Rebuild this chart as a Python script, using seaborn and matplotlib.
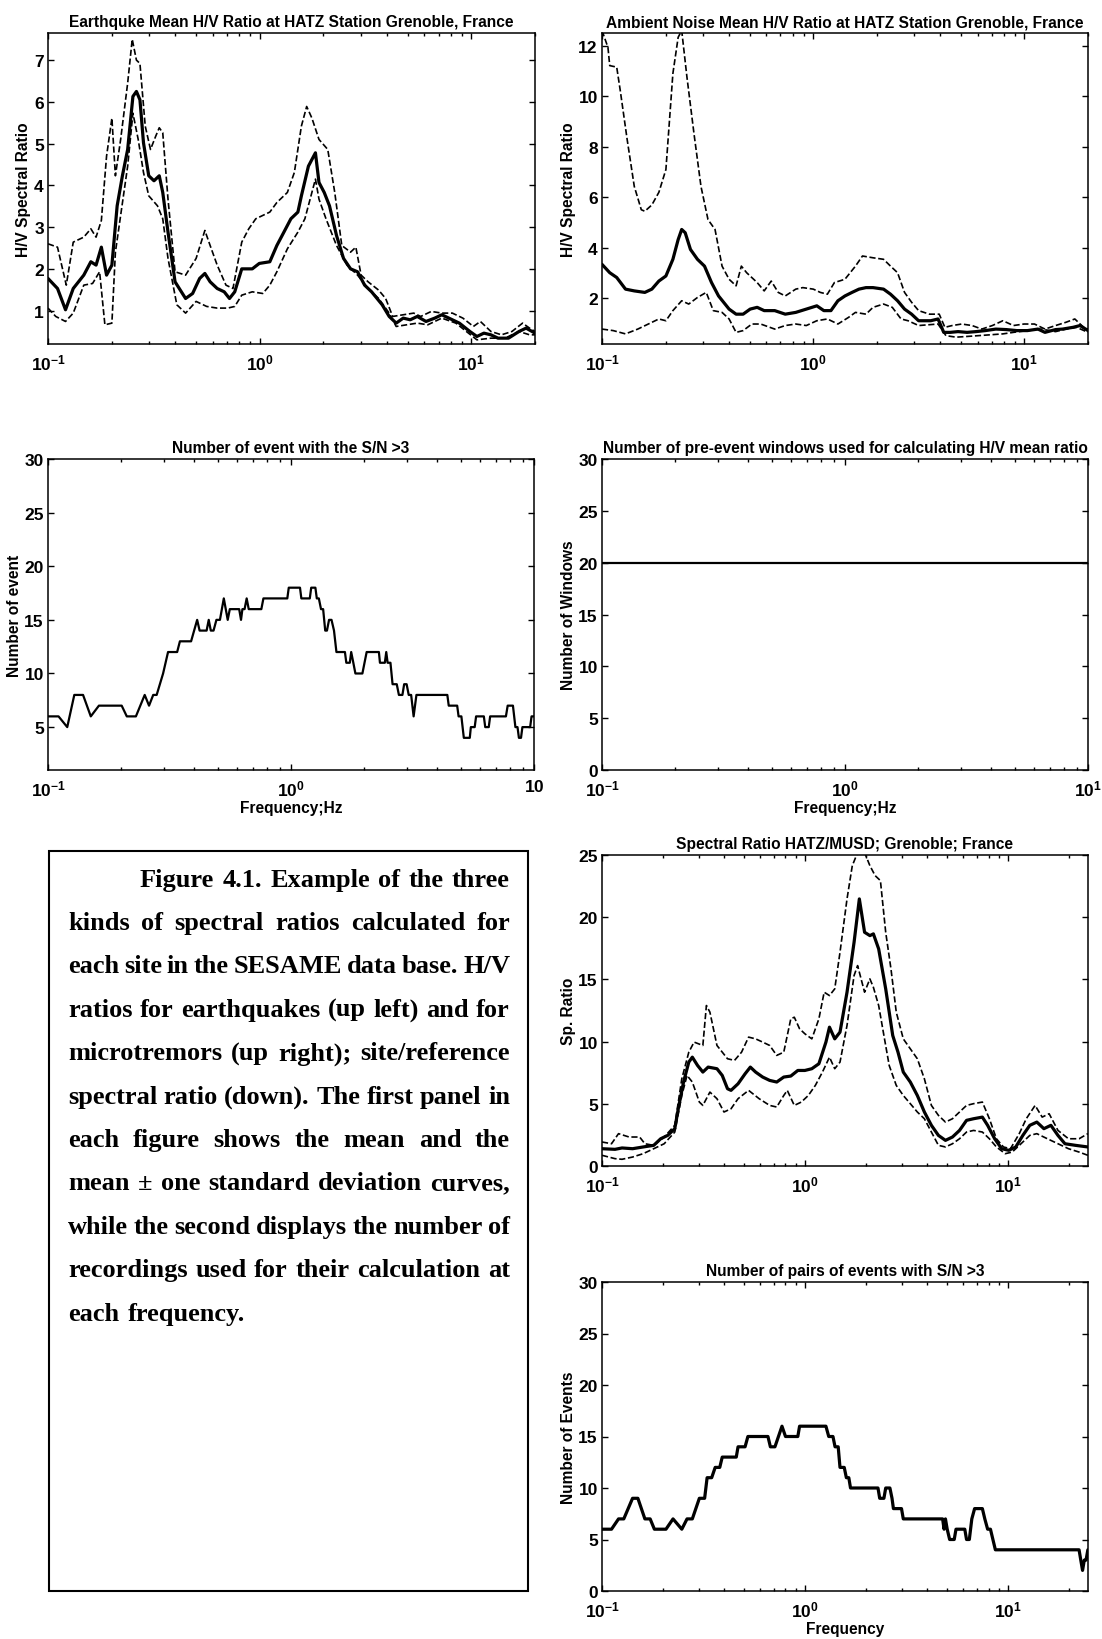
import numpy as np
import matplotlib
matplotlib.use("Agg")
import matplotlib.pyplot as plt
import seaborn as sns
from matplotlib.ticker import LogLocator, NullFormatter
from matplotlib.patches import Rectangle

# ---------------- data ----------------
# Earthquake mean H/V ratio (top left)
eq_mean_f = [0.1, 0.1109, 0.1210, 0.1316, 0.1476, 0.1594, 0.1687, 0.1787, 0.1891, 0.2004,
             0.2122, 0.2247, 0.2379, 0.2519, 0.2617, 0.2719, 0.2826, 0.2992, 0.3168, 0.3355,
             0.3485, 0.3690, 0.3984, 0.4468, 0.4823, 0.5205, 0.5510, 0.5835, 0.6300, 0.6801,
             0.7203, 0.7627, 0.8231, 0.9230, 0.9961, 1.117, 1.206, 1.302, 1.405, 1.516,
             1.575, 1.700, 1.835, 1.907, 2.019, 2.138, 2.308, 2.491, 2.689, 2.902,
             3.133, 3.381, 3.792, 4.093, 4.417, 4.768, 5.145, 5.554, 6.110, 6.721,
             7.256, 8.139, 8.783, 9.848, 10.63, 11.47, 12.38, 13.37, 14.99, 16.81,
             18.15, 20.0]
eq_mean = [1.77, 1.53, 1.02, 1.53, 1.85, 2.17, 2.09, 2.52, 1.85, 2.09,
           3.51, 4.23, 4.86, 6.13, 6.25, 6.05, 5.02, 4.23, 4.11, 4.23,
           3.83, 2.88, 1.69, 1.29, 1.41, 1.77, 1.89, 1.69, 1.53, 1.45,
           1.29, 1.45, 2.0, 2.0, 2.13, 2.17, 2.56, 2.88, 3.20, 3.36,
           3.75, 4.46, 4.78, 4.07, 3.83, 3.51, 2.80, 2.25, 2.0, 1.93,
           1.61, 1.45, 1.14, 0.86, 0.70, 0.82, 0.78, 0.86, 0.74, 0.82,
           0.90, 0.78, 0.70, 0.50, 0.38, 0.46, 0.42, 0.34, 0.34, 0.50,
           0.58, 0.46]
eq_up_f = [0.1, 0.1109, 0.1220, 0.1316, 0.1476, 0.1594, 0.1687, 0.1787, 0.1891, 0.2004,
           0.2082, 0.2204, 0.2379, 0.2500, 0.2617, 0.2719, 0.2880, 0.3050, 0.3229, 0.3355,
           0.3485, 0.3690, 0.3984, 0.4468, 0.5010, 0.5510, 0.5835, 0.6300, 0.6933, 0.7482,
           0.8231, 0.8885, 0.9589, 1.035, 1.117, 1.206, 1.352, 1.459, 1.575, 1.668,
           1.766, 1.907, 2.098, 2.264, 2.444, 2.689, 2.848, 3.016, 3.254, 3.650,
           3.939, 4.252, 4.768, 5.346, 5.770, 6.470, 7.256, 8.139, 9.125, 10.23,
           11.04, 12.38, 13.89, 15.57, 17.47, 18.85, 20.0]
eq_up = [2.60, 2.52, 1.61, 2.64, 2.76, 2.96, 2.76, 3.16, 4.70, 5.61,
         4.23, 5.10, 6.45, 7.50, 7.0, 6.92, 5.42, 4.86, 5.18, 5.38,
         5.26, 3.67, 1.93, 1.85, 2.25, 2.92, 2.56, 2.09, 1.61, 1.53,
         2.64, 2.96, 3.20, 3.28, 3.36, 3.59, 3.83, 4.31, 5.42, 5.89,
         5.61, 5.10, 4.86, 3.83, 2.56, 2.40, 2.52, 1.85, 1.69, 1.49,
         1.29, 0.86, 0.90, 0.94, 0.86, 0.98, 0.94, 0.94, 0.82, 0.62,
         0.74, 0.50, 0.42, 0.50, 0.70, 0.58, 0.50]
eq_lo_f = [0.1, 0.1088, 0.1210, 0.1316, 0.1476, 0.1624, 0.1753, 0.1857, 0.2004, 0.2082,
           0.2204, 0.2379, 0.2519, 0.2668, 0.2826, 0.2992, 0.3291, 0.3485, 0.3690, 0.4061,
           0.4468, 0.5010, 0.5617, 0.6300, 0.7067, 0.7627, 0.8231, 0.9230, 1.035, 1.117,
           1.206, 1.352, 1.516, 1.636, 1.835, 1.907, 2.058, 2.308, 2.588, 2.902,
           3.254, 3.650, 4.093, 4.417, 4.953, 5.554, 6.228, 7.256, 8.455, 9.479,
           10.63, 12.38, 14.43, 16.81, 18.85, 20.0]
eq_lo = [1.06, 0.86, 0.74, 0.94, 1.61, 1.65, 1.93, 0.66, 0.70, 2.40,
         3.28, 4.46, 5.73, 5.10, 4.31, 3.75, 3.51, 3.20, 2.25, 1.14,
         0.94, 1.22, 1.10, 1.06, 1.06, 1.10, 1.37, 1.45, 1.41, 1.61,
         1.93, 2.48, 2.88, 3.20, 4.15, 3.67, 3.20, 2.56, 2.09, 1.85,
         1.53, 1.29, 0.94, 0.62, 0.66, 0.70, 0.66, 0.82, 0.70, 0.50,
         0.30, 0.34, 0.34, 0.50, 0.42, 0.42]

# Ambient noise mean H/V ratio (top right)
an_mean_f = [0.1, 0.1088, 0.1174, 0.1292, 0.1422, 0.1595, 0.1722, 0.1859, 0.2007, 0.2166,
             0.2294, 0.2384, 0.2477, 0.2623, 0.2831, 0.3057, 0.3300, 0.3563, 0.3997, 0.4314,
             0.4657, 0.5028, 0.5428, 0.5861, 0.6574, 0.7372, 0.8268, 0.9275, 1.040, 1.123,
             1.213, 1.309, 1.413, 1.526, 1.647, 1.778, 1.919, 2.153, 2.323, 2.508,
             2.707, 2.923, 3.155, 3.60, 3.90, 4.15, 4.45, 4.85, 5.35, 5.90,
             6.530, 7.323, 8.214, 9.213, 10.33, 11.59, 12.51, 14.04, 15.15, 17.00,
             18.34, 20.0]
an_mean = [3.35, 3.02, 2.83, 2.37, 2.30, 2.24, 2.37, 2.69, 2.89, 3.55,
           4.33, 4.73, 4.60, 3.94, 3.55, 3.28, 2.63, 2.10, 1.58, 1.38,
           1.38, 1.58, 1.65, 1.52, 1.52, 1.38, 1.45, 1.58, 1.71, 1.52,
           1.52, 1.91, 2.10, 2.24, 2.37, 2.43, 2.43, 2.37, 2.17, 1.91,
           1.58, 1.38, 1.12, 1.12, 1.19, 0.66, 0.66, 0.69, 0.66, 0.69,
           0.73, 0.79, 0.77, 0.73, 0.73, 0.79, 0.66, 0.77, 0.79, 0.86,
           0.93, 0.73]
an_up_f = [0.1, 0.1067, 0.1088, 0.1174, 0.1220, 0.1317, 0.1422, 0.1535, 0.1595, 0.1722,
           0.1859, 0.2007, 0.2166, 0.2294, 0.2384, 0.2525, 0.2725, 0.2942, 0.3176, 0.3429,
           0.3702, 0.3997, 0.4314, 0.4569, 0.4839, 0.5428, 0.5861, 0.6327, 0.6831, 0.7372,
           0.8268, 0.8925, 1.001, 1.081, 1.167, 1.260, 1.413, 1.585, 1.711, 1.919,
           2.153, 2.323, 2.508, 2.707, 2.923, 3.155, 3.55, 3.95, 4.20, 4.55,
           5.05, 5.65, 6.283, 7.049, 7.906, 8.867, 9.947, 11.16, 12.51, 14.04,
           15.74, 17.32, 19.06, 20.0]
an_up = [12.6, 11.93, 11.21, 11.15, 10.23, 8.26, 6.43, 5.51, 5.45, 5.7,
         6.2, 7.1, 10.9, 12.33, 12.6, 10.75, 8.53, 6.43, 5.12, 4.73,
         3.28, 2.76, 2.50, 3.28, 3.02, 2.63, 2.30, 2.69, 2.24, 2.10,
         2.37, 2.43, 2.37, 2.24, 2.17, 2.63, 2.76, 3.28, 3.68, 3.61,
         3.55, 3.28, 3.02, 2.24, 1.85, 1.52, 1.38, 1.38, 0.86, 0.93,
         0.99, 0.93, 0.79, 0.93, 1.12, 0.93, 0.99, 0.99, 0.79, 0.93,
         1.06, 1.19, 0.86, 0.79]
an_lo_f = [0.1, 0.1130, 0.1292, 0.1477, 0.1657, 0.1859, 0.2007, 0.2166, 0.2384, 0.2574,
           0.2831, 0.3116, 0.3364, 0.3702, 0.3997, 0.4314, 0.4657, 0.5124, 0.5640, 0.6574,
           0.7372, 0.8268, 0.9275, 1.040, 1.167, 1.309, 1.468, 1.585, 1.778, 1.919,
           2.153, 2.368, 2.606, 2.813, 3.155, 3.90, 4.25, 4.75, 5.603, 6.784,
           7.906, 8.867, 10.33, 12.04, 14.04, 15.74, 17.66, 20.0]
an_lo = [0.79, 0.73, 0.60, 0.79, 0.99, 1.19, 1.12, 1.52, 1.91, 1.78,
         2.04, 2.24, 1.52, 1.45, 1.19, 0.66, 0.73, 0.99, 0.99, 0.79,
         0.93, 0.99, 0.93, 1.12, 1.19, 0.99, 1.25, 1.45, 1.38, 1.65,
         1.78, 1.65, 1.19, 1.12, 0.93, 0.99, 0.53, 0.47, 0.51, 0.56,
         0.60, 0.66, 0.73, 0.79, 0.69, 0.79, 0.86, 0.66]

# Number of events with S/N > 3 (middle left)
ev_f = [0.1, 0.1105, 0.120, 0.1283, 0.1394, 0.150, 0.162, 0.201, 0.211, 0.230,
        0.250, 0.2605, 0.271, 0.280, 0.2976, 0.3119, 0.340, 0.349, 0.388, 0.411,
        0.4206, 0.4495, 0.4586, 0.4677, 0.480, 0.4933, 0.510, 0.529, 0.549, 0.560,
        0.612, 0.6227, 0.631, 0.644, 0.657, 0.670, 0.755, 0.770, 0.9656, 0.979,
        1.089, 1.103, 1.195, 1.211, 1.260, 1.277, 1.302, 1.329, 1.356, 1.383,
        1.406, 1.434, 1.468, 1.503, 1.538, 1.667, 1.689, 1.746, 1.769, 1.805,
        1.841, 1.967, 2.007, 2.048, 2.300, 2.323, 2.433, 2.466, 2.498, 2.566,
        2.618, 2.724, 2.780, 2.874, 2.922, 2.991, 3.051, 3.122, 3.196, 3.282,
        4.399, 4.458, 4.829, 4.894, 5.025, 5.143, 5.442, 5.497, 5.701, 5.777,
        6.217, 6.300, 6.513, 6.600, 7.664, 7.792, 8.191, 8.384, 8.553, 8.668,
        8.842, 8.960, 9.641, 9.770, 10.0]
ev_n = [6, 6, 5, 8, 8, 6, 7, 7, 6, 6,
        8, 7, 8, 8, 10, 12, 12, 13, 13, 15,
        14, 14, 15, 14, 14, 15, 15, 17, 15, 16,
        16, 15, 16, 16, 17, 16, 16, 17, 17, 18,
        18, 17, 17, 18, 18, 17, 17, 16, 16, 14,
        14, 15, 15, 14, 12, 12, 11, 11, 12, 11,
        10, 10, 11, 12, 12, 11, 11, 12, 11, 11,
        9, 9, 8, 8, 9, 9, 8, 8, 6, 8,
        8, 7, 7, 6, 6, 4, 4, 5, 5, 6,
        6, 5, 5, 6, 6, 7, 7, 5, 5, 4,
        4, 5, 5, 6, 6]

# Number of pre-event windows (middle right)
win_f = [0.1, 10.0]
win_n = [20, 20]

# Site / reference spectral ratio (lower right)
sr_mean_f = [0.1, 0.1159, 0.1255, 0.1414, 0.1594, 0.1797, 0.1945, 0.2106, 0.2282, 0.2374,
             0.2520, 0.2675, 0.2784, 0.2955, 0.3137, 0.3331, 0.3681, 0.3908, 0.4149, 0.4317,
             0.4675, 0.5063, 0.5375, 0.5706, 0.6180, 0.6692, 0.7248, 0.7850, 0.8501, 0.9205,
             0.9968, 1.079, 1.169, 1.266, 1.318, 1.399, 1.485, 1.608, 1.742, 1.849,
             1.962, 2.084, 2.168, 2.302, 2.493, 2.700, 2.866, 3.043, 3.295, 3.568,
             3.865, 4.185, 4.532, 4.908, 5.315, 5.756, 6.233, 6.751, 7.458, 7.917,
             8.575, 9.287, 10.06, 10.89, 11.80, 12.77, 13.83, 14.98, 16.22, 17.57,
             19.02, 21.45, 24.66]
sr_mean = [1.39, 1.34, 1.45, 1.39, 1.53, 1.66, 2.19, 2.46, 3.0, 4.60,
           6.75, 8.35, 8.75, 8.08, 7.55, 7.95, 7.82, 7.28, 6.21, 6.08,
           6.61, 7.41, 7.95, 7.55, 7.15, 6.88, 6.75, 7.15, 7.23, 7.68,
           7.68, 7.82, 8.22, 9.96, 11.16, 10.22, 10.76, 13.97, 17.99, 21.47,
           18.79, 18.52, 18.66, 17.45, 14.24, 10.49, 9.15, 7.55, 6.75, 5.67,
           4.34, 3.27, 2.46, 2.06, 2.33, 2.86, 3.67, 3.80, 3.93, 3.27,
           2.19, 1.39, 1.26, 1.53, 2.46, 3.27, 3.53, 3.0, 3.27, 2.46,
           1.79, 1.66, 1.53]
sr_up_f = [0.1, 0.1114, 0.1206, 0.1359, 0.1532, 0.1626, 0.1797, 0.2024, 0.2282, 0.2471,
           0.2675, 0.2840, 0.3137, 0.3266, 0.3398, 0.3681, 0.4149, 0.4493, 0.4865, 0.5269,
           0.5706, 0.6180, 0.6692, 0.7248, 0.7850, 0.8501, 0.8846, 0.9391, 0.9968, 1.079,
           1.169, 1.241, 1.318, 1.399, 1.485, 1.608, 1.707, 1.813, 1.962, 2.084,
           2.212, 2.348, 2.493, 2.646, 2.810, 3.043, 3.295, 3.568, 3.865, 4.185,
           4.532, 4.908, 5.315, 5.756, 6.233, 6.751, 7.458, 8.076, 8.747, 9.473,
           10.26, 11.33, 12.27, 13.56, 14.69, 15.90, 17.57, 19.80, 22.32, 24.66]
sr_up = [1.93, 1.79, 2.60, 2.33, 2.33, 1.79, 1.66, 2.33, 3.27, 7.01,
         9.15, 9.96, 9.69, 12.90, 12.37, 9.69, 8.62, 8.49, 9.15, 10.36,
         10.22, 9.96, 9.69, 8.89, 9.15, 11.83, 11.96, 11.03, 10.63, 10.22,
         11.83, 13.97, 13.70, 14.24, 17.18, 21.47, 24.14, 25.2, 25.2, 24.14,
         23.34, 22.94, 18.79, 15.85, 12.37, 10.22, 9.42, 8.62, 7.01, 4.87,
         4.07, 3.53, 3.80, 4.34, 4.87, 5.01, 5.14, 3.80, 2.19, 1.53,
         1.39, 2.60, 3.80, 4.87, 3.93, 4.20, 2.86, 2.19, 2.19, 2.60]
sr_lo_f = [0.1, 0.1159, 0.1255, 0.1414, 0.1594, 0.1797, 0.2024, 0.2282, 0.2471, 0.2622,
           0.2784, 0.3015, 0.3137, 0.3398, 0.3681, 0.3987, 0.4317, 0.4675, 0.5269, 0.5938,
           0.6692, 0.7248, 0.7850, 0.8169, 0.8846, 0.9579, 1.037, 1.123, 1.217, 1.318,
           1.399, 1.485, 1.608, 1.742, 1.813, 1.962, 2.084, 2.168, 2.302, 2.443,
           2.594, 2.810, 3.043, 3.295, 3.568, 3.865, 4.185, 4.532, 4.908, 5.315,
           5.756, 6.233, 6.751, 7.458, 8.076, 8.747, 9.663, 10.46, 11.56, 12.77,
           13.83, 15.59, 17.57, 19.80, 22.32, 24.66]
sr_lo = [0.86, 0.59, 0.54, 0.72, 0.99, 1.39, 1.79, 2.73, 5.67, 7.28,
         6.75, 5.14, 4.87, 5.94, 5.41, 4.34, 4.60, 5.41, 6.08, 5.41,
         4.87, 4.74, 5.67, 6.08, 4.87, 5.14, 5.67, 6.48, 7.55, 8.75,
         7.82, 8.35, 11.30, 15.31, 16.11, 13.97, 15.04, 14.37, 12.90, 10.49,
         8.08, 6.48, 5.67, 5.01, 4.34, 3.80, 2.73, 1.66, 1.53, 1.79,
         2.19, 2.73, 2.86, 2.73, 2.19, 1.53, 0.99, 1.12, 1.79, 2.46,
         2.60, 2.19, 1.79, 1.39, 1.12, 0.86]

# Number of pairs of events with S/N > 3 (bottom right)
pr_f = [0.1, 0.1114, 0.1206, 0.1280, 0.1414, 0.1502, 0.1626, 0.1726, 0.1811, 0.2065,
        0.2237, 0.2471, 0.2622, 0.2784, 0.3015, 0.3201, 0.3292, 0.3467, 0.3608, 0.3800,
        0.3908, 0.4582, 0.4675, 0.5063, 0.5227, 0.6561, 0.6745, 0.7103, 0.7392, 0.7693,
        0.8006, 0.9205, 0.9391, 1.266, 1.307, 1.371, 1.404, 1.455, 1.485, 1.558,
        1.596, 1.641, 1.673, 2.284, 2.329, 2.443, 2.493, 2.615, 2.678, 2.721,
        2.982, 3.043, 4.753, 4.831, 4.908, 5.006, 5.147, 5.421, 5.531, 6.110,
        6.233, 6.434, 6.617, 6.830, 7.458, 7.668, 7.917, 8.174, 8.405, 8.643,
        22.32, 22.76, 23.22, 23.68, 24.16, 24.66]
pr_n = [6, 6, 7, 7, 9, 9, 7, 7, 6, 6,
        7, 6, 7, 7, 9, 9, 11, 11, 12, 12,
        13, 13, 14, 14, 15, 15, 14, 14, 15, 16,
        15, 15, 16, 16, 15, 15, 14, 14, 12, 12,
        11, 11, 10, 10, 9, 9, 10, 10, 9, 8,
        8, 7, 7, 6, 7, 6, 5, 5, 6, 6,
        5, 5, 7, 8, 8, 7, 6, 6, 5, 4,
        4, 3, 2, 3, 3, 4]

caption = [
    "Figure 4.1. Example of the three",
    "kinds of spectral ratios calculated for",
    "each site in the SESAME data base. H/V",
    "ratios for earthquakes (up left) and for",
    "microtremors (up right); site/reference",
    "spectral ratio (down). The first panel in",
    "each figure shows the mean and the",
    "mean \u00b1 one standard deviation curves,",
    "while the second displays the number of",
    "recordings used for their calculation at",
    "each frequency.",
]

# ---------------- style ----------------
sns.set_style("ticks")
plt.rcParams['font.family'] = ['Liberation Sans', 'DejaVu Sans']
plt.rcParams['font.weight'] = 'bold'
plt.rcParams['mathtext.fontset'] = 'custom'
plt.rcParams['mathtext.rm'] = 'Liberation Sans:bold'
plt.rcParams['mathtext.bf'] = 'Liberation Sans:bold'
plt.rcParams['mathtext.it'] = 'Liberation Sans:bold'
for k in ['text.color', 'axes.labelcolor', 'xtick.color', 'ytick.color', 'axes.edgecolor']:
    plt.rcParams[k] = 'black'
plt.rcParams['axes.linewidth'] = 1.1

W, H = 1102, 1640
fig = plt.figure(figsize=(W / 100, H / 100), dpi=100)


def panel(l, r, t, b):
    ax = fig.add_axes([l / W, 1 - b / H, (r - l) / W, (b - t) / H])
    ax.set_xscale('log')
    return ax


def dress(ax, xmax, ylim, yticks, title, ylabel, xlabel='', last=r'$\mathbf{10^{1}}$'):
    ax.set_xlim(0.1, xmax)
    ax.set_ylim(*ylim)
    ax.set_yticks(yticks)
    ax.set_xticks([0.1, 1, 10])
    ax.set_xticklabels([r'$\mathbf{10^{-1}}$', r'$\mathbf{10^{0}}$', last])
    ax.xaxis.set_minor_locator(LogLocator(base=10, subs=np.arange(2, 10)))
    ax.xaxis.set_minor_formatter(NullFormatter())
    ax.tick_params(which='both', direction='in', top=True, right=True, width=1)
    ax.tick_params(which='major', length=4, labelsize=12.5)
    ax.tick_params(axis='x', which='major', pad=6)
    ax.tick_params(axis='y', which='major', pad=3)
    ax.tick_params(which='minor', length=2.5)
    ax.set_title(title, fontsize=11.2, fontweight='bold', pad=5)
    ax.set_ylabel(ylabel, fontsize=11.2, fontweight='bold', labelpad=2)
    ax.set_xlabel(xlabel, fontsize=11.2, fontweight='bold', labelpad=1)


def three_curves(ax, fm, m, fu, u, fl, lo):
    sns.lineplot(x=fu, y=u, ax=ax, color='black', lw=1.2, linestyle='--', sort=False, estimator=None)
    sns.lineplot(x=fl, y=lo, ax=ax, color='black', lw=1.2, linestyle='--', sort=False, estimator=None)
    sns.lineplot(x=fm, y=m, ax=ax, color='black', lw=2.3, sort=False, estimator=None)


# top left
ax1 = panel(48, 535, 34, 345)
three_curves(ax1, eq_mean_f, eq_mean, eq_up_f, eq_up, eq_lo_f, eq_lo)
dress(ax1, 20, (0.2, 7.65), range(1, 8),
      "Earthquke Mean H/V Ratio at HATZ Station Grenoble, France", "H/V Spectral Ratio")

# top right
ax2 = panel(602, 1088, 34, 345)
three_curves(ax2, an_mean_f, an_mean, an_up_f, an_up, an_lo_f, an_lo)
dress(ax2, 20, (0.2, 12.5), range(2, 13, 2),
      "Ambient Noise Mean H/V Ratio at HATZ Station Grenoble, France", "H/V Spectral Ratio")

# middle left
ax3 = panel(48, 534, 460, 771)
sns.lineplot(x=ev_f, y=ev_n, ax=ax3, color='black', lw=1.6, sort=False, estimator=None)
dress(ax3, 10, (1, 30), range(5, 31, 5), "Number of event with the S/N >3",
      "Number of event", "Frequency;Hz", last=r'$\mathbf{10}$')

# middle right
ax4 = panel(602, 1088, 460, 771)
sns.lineplot(x=win_f, y=win_n, ax=ax4, color='black', lw=1.6, sort=False, estimator=None)
dress(ax4, 10, (0, 30), range(0, 31, 5),
      "Number of pre-event windows used for calculating H/V mean ratio",
      "Number of Windows", "Frequency;Hz")

# lower right: spectral ratio
ax5 = panel(602, 1088, 856, 1167)
three_curves(ax5, sr_mean_f, sr_mean, sr_up_f, sr_up, sr_lo_f, sr_lo)
dress(ax5, 24.7, (0, 25), range(0, 26, 5),
      "Spectral Ratio HATZ/MUSD; Grenoble; France", "Sp. Ratio")

# bottom right
ax6 = panel(602, 1088, 1283, 1592)
sns.lineplot(x=pr_f, y=pr_n, ax=ax6, color='black', lw=2.3, sort=False, estimator=None)
dress(ax6, 24.7, (0, 30), range(0, 31, 5), "Number of pairs of events with S/N >3",
      "Number of Events", "Frequency")

# caption box with justified text
fig.add_artist(Rectangle((49 / W, 1 - 1592 / H), (528 - 49) / W, (1592 - 852) / H,
                         transform=fig.transFigure, fill=False, lw=1.5, ec='black'))
renderer = fig.canvas.get_renderer()
for i, line in enumerate(caption):
    ybase = 886.7 + 43.4 * i
    x0 = 140 if i == 0 else 68
    words = line.split(' ')
    arts = [fig.text(0, 1 - ybase / H, w, fontsize=19, fontfamily='Liberation Serif',
                     fontweight='bold', va='baseline') for w in words]
    widths = [a.get_window_extent(renderer).width for a in arts]
    if i < len(caption) - 1:
        gap = (510 - x0 - sum(widths)) / (len(words) - 1)
    else:
        gap = 9
    x = x0
    for a, w in zip(arts, widths):
        a.set_x(x / W)
        x += w + gap

fig.savefig('out.png', dpi=100)
